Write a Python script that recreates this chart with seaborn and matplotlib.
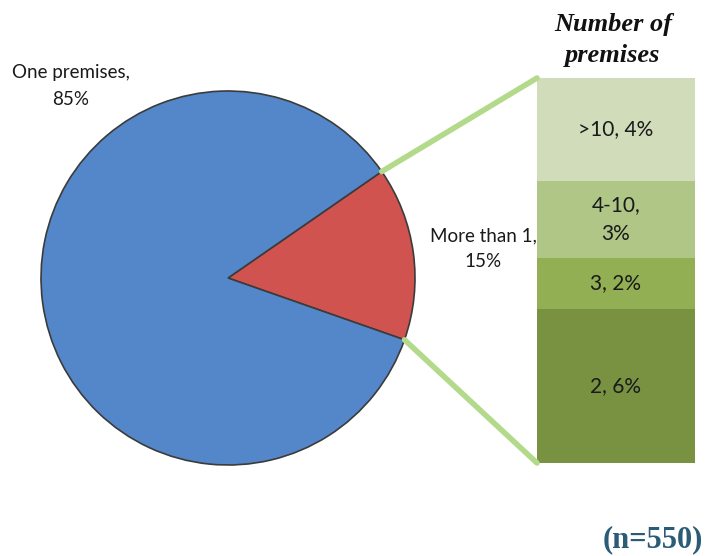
import numpy as np
import matplotlib
matplotlib.use("Agg")
import matplotlib.pyplot as plt
import seaborn as sns
from matplotlib.patches import ConnectionPatch

# pie data
pie_labels = ["More than 1,\n15%", "One premises,\n85%"]
pie_values = [15, 85]
pie_colors = ["#D0534F", "#5387C9"]

# breakdown of "More than 1" (bottom to top)
bar_labels = ["2, 6%", "3, 2%", "4-10,\n3%", ">10, 4%"]
bar_values = [6, 2, 3, 4]
bar_colors = ["#789242", "#93AF53", "#AFC686", "#D0DCBA"]

sns.set_theme(style="white")
plt.rcParams['font.family'] = ['Lato', 'DejaVu Sans']

fig = plt.figure(figsize=(7.05, 5.56), dpi=100)

# pie axes covering the whole figure, pixel-like units
ax = fig.add_axes([0, 0, 1, 1])
wedges, _ = ax.pie(pie_values, colors=pie_colors, startangle=-19.3,
                   counterclock=True, center=(228, 278), radius=187,
                   frame=True,
                   wedgeprops=dict(edgecolor="#3b3b3b", linewidth=1.2))
ax.set_xlim(0, 705)
ax.set_ylim(0, 556)
ax.set_aspect("equal")
ax.axis("off")

ax.text(71, 470, pie_labels[1], ha="center", va="center", fontsize=13.5,
        color="#1a1a1a", linespacing=1.7)
ax.text(483, 307, pie_labels[0], ha="center", va="center", fontsize=13.5,
        color="#1a1a1a", linespacing=1.6)

# stacked bar
bax = fig.add_axes([537 / 705, 93 / 556, 158 / 705, 385 / 556])
bottom = 0
for val, col, lab in zip(bar_values, bar_colors, bar_labels):
    bax.bar(0, val, width=1, bottom=bottom, color=col, edgecolor="none")
    bax.text(0, bottom + val / 2, lab, ha="center", va="center",
             fontsize=15, color="#1a1a1a", linespacing=1.55)
    bottom += val
bax.set_xlim(-0.5, 0.5)
bax.set_ylim(0, sum(bar_values))
bax.axis("off")

# connector lines from red wedge to bar
red = wedges[0]
cx, cy = red.center
r = red.r
for ang, corner in [(red.theta2, (0, 1)), (red.theta1, (0, 0))]:
    x = cx + r * np.cos(np.deg2rad(ang))
    y = cy + r * np.sin(np.deg2rad(ang))
    con = ConnectionPatch(xyA=corner, coordsA=bax.transAxes,
                          xyB=(x, y), coordsB=ax.transData,
                          color="#B3DA8A", linewidth=4)
    fig.add_artist(con)

fig.text(613 / 705, 1 - 40 / 556, "Number of\npremises", ha="center",
         va="center", fontsize=19, fontweight="bold", fontstyle="italic",
         family=["Liberation Serif"], color="#111111", linespacing=1.4)
fig.text(653 / 705, 1 - 540 / 556, "(n=550)", ha="center", va="center",
         fontsize=22, fontweight="bold", family=["Liberation Serif"],
         color="#2A5C78")

fig.savefig("out.png", dpi=100)
